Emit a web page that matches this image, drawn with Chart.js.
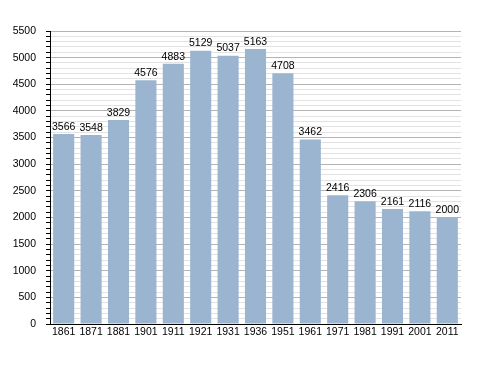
<!DOCTYPE html>
<html lang="en">
<head>
    <meta charset="UTF-8">
    <title>Population</title>
    <style>
        html, body { margin: 0; padding: 0; background: #fff; }
        .campo_grafico { width: 488px; height: 373px; }
    </style>
</head>
<body>
    <div class="campo_grafico">
        <canvas id="grafico" width="488" height="373"></canvas>
    </div>

<script src="https://cdn.jsdelivr.net/npm/chart.js"></script>
<script>
    // dados
    const anos = ['1861', '1871', '1881', '1901', '1911', '1921', '1931', '1936', '1951', '1961', '1971', '1981', '1991', '2001', '2011'];
    const habitantes = [3566, 3548, 3829, 4576, 4883, 5129, 5037, 5163, 4708, 3462, 2416, 2306, 2161, 2116, 2000];
    const eixoY = { min: 0, max: 5500, passoMaior: 500, passoMenor: 100 };

    const fonte = { family: 'Liberation Sans, Arial, sans-serif', size: 10.5 };

    // escreve o valor em cima de cada barra
    const rotulosBarras = {
        id: 'rotulosBarras',
        afterDatasetsDraw(chart) {
            const ctx = chart.ctx;
            const meta = chart.getDatasetMeta(0);
            ctx.save();
            ctx.font = fonte.size + 'px ' + fonte.family;
            ctx.fillStyle = '#000';
            ctx.textAlign = 'center';
            ctx.textBaseline = 'bottom';
            meta.data.forEach(function (barra, i) {
                ctx.fillText(habitantes[i], barra.x, barra.y - 2);
            });
            ctx.restore();
        }
    };

    const ctx = document.getElementById('grafico');

    new Chart(ctx, {
        type: 'bar',
        data: {
            labels: anos,
            datasets: [{
                data: habitantes,
                backgroundColor: '#9bb4cf',
                borderWidth: 0,
                barPercentage: 0.77,
                categoryPercentage: 1
            }]
        },
        options: {
            responsive: false,
            animation: false,
            devicePixelRatio: 1,
            layout: { padding: { top: 31, right: 27, left: 0, bottom: 0 } },
            plugins: {
                legend: { display: false },
                tooltip: { enabled: false }
            },
            scales: {
                x: {
                    grid: { display: false },
                    border: { color: '#000', width: 1 },
                    ticks: { color: '#000', font: fonte, maxRotation: 0, autoSkip: false, padding: -6 },
                    afterFit(scale) { scale.height = 49; }
                },
                y: {
                    min: eixoY.min,
                    max: eixoY.max,
                    border: { color: '#000', width: 1 },
                    grid: {
                        color: function (c) { return c.tick.value % eixoY.passoMaior === 0 ? '#b4b4b4' : '#e2e2e2'; },
                        tickColor: '#000',
                        tickLength: 4
                    },
                    ticks: {
                        stepSize: eixoY.passoMenor,
                        autoSkip: false,
                        color: '#000',
                        font: fonte,
                        padding: 10,
                        callback: function (valor) { return valor % eixoY.passoMaior === 0 ? valor : ''; }
                    },
                    afterFit(scale) { scale.width = 50; }
                }
            }
        },
        plugins: [rotulosBarras]
    });
</script>
</body>
</html>
